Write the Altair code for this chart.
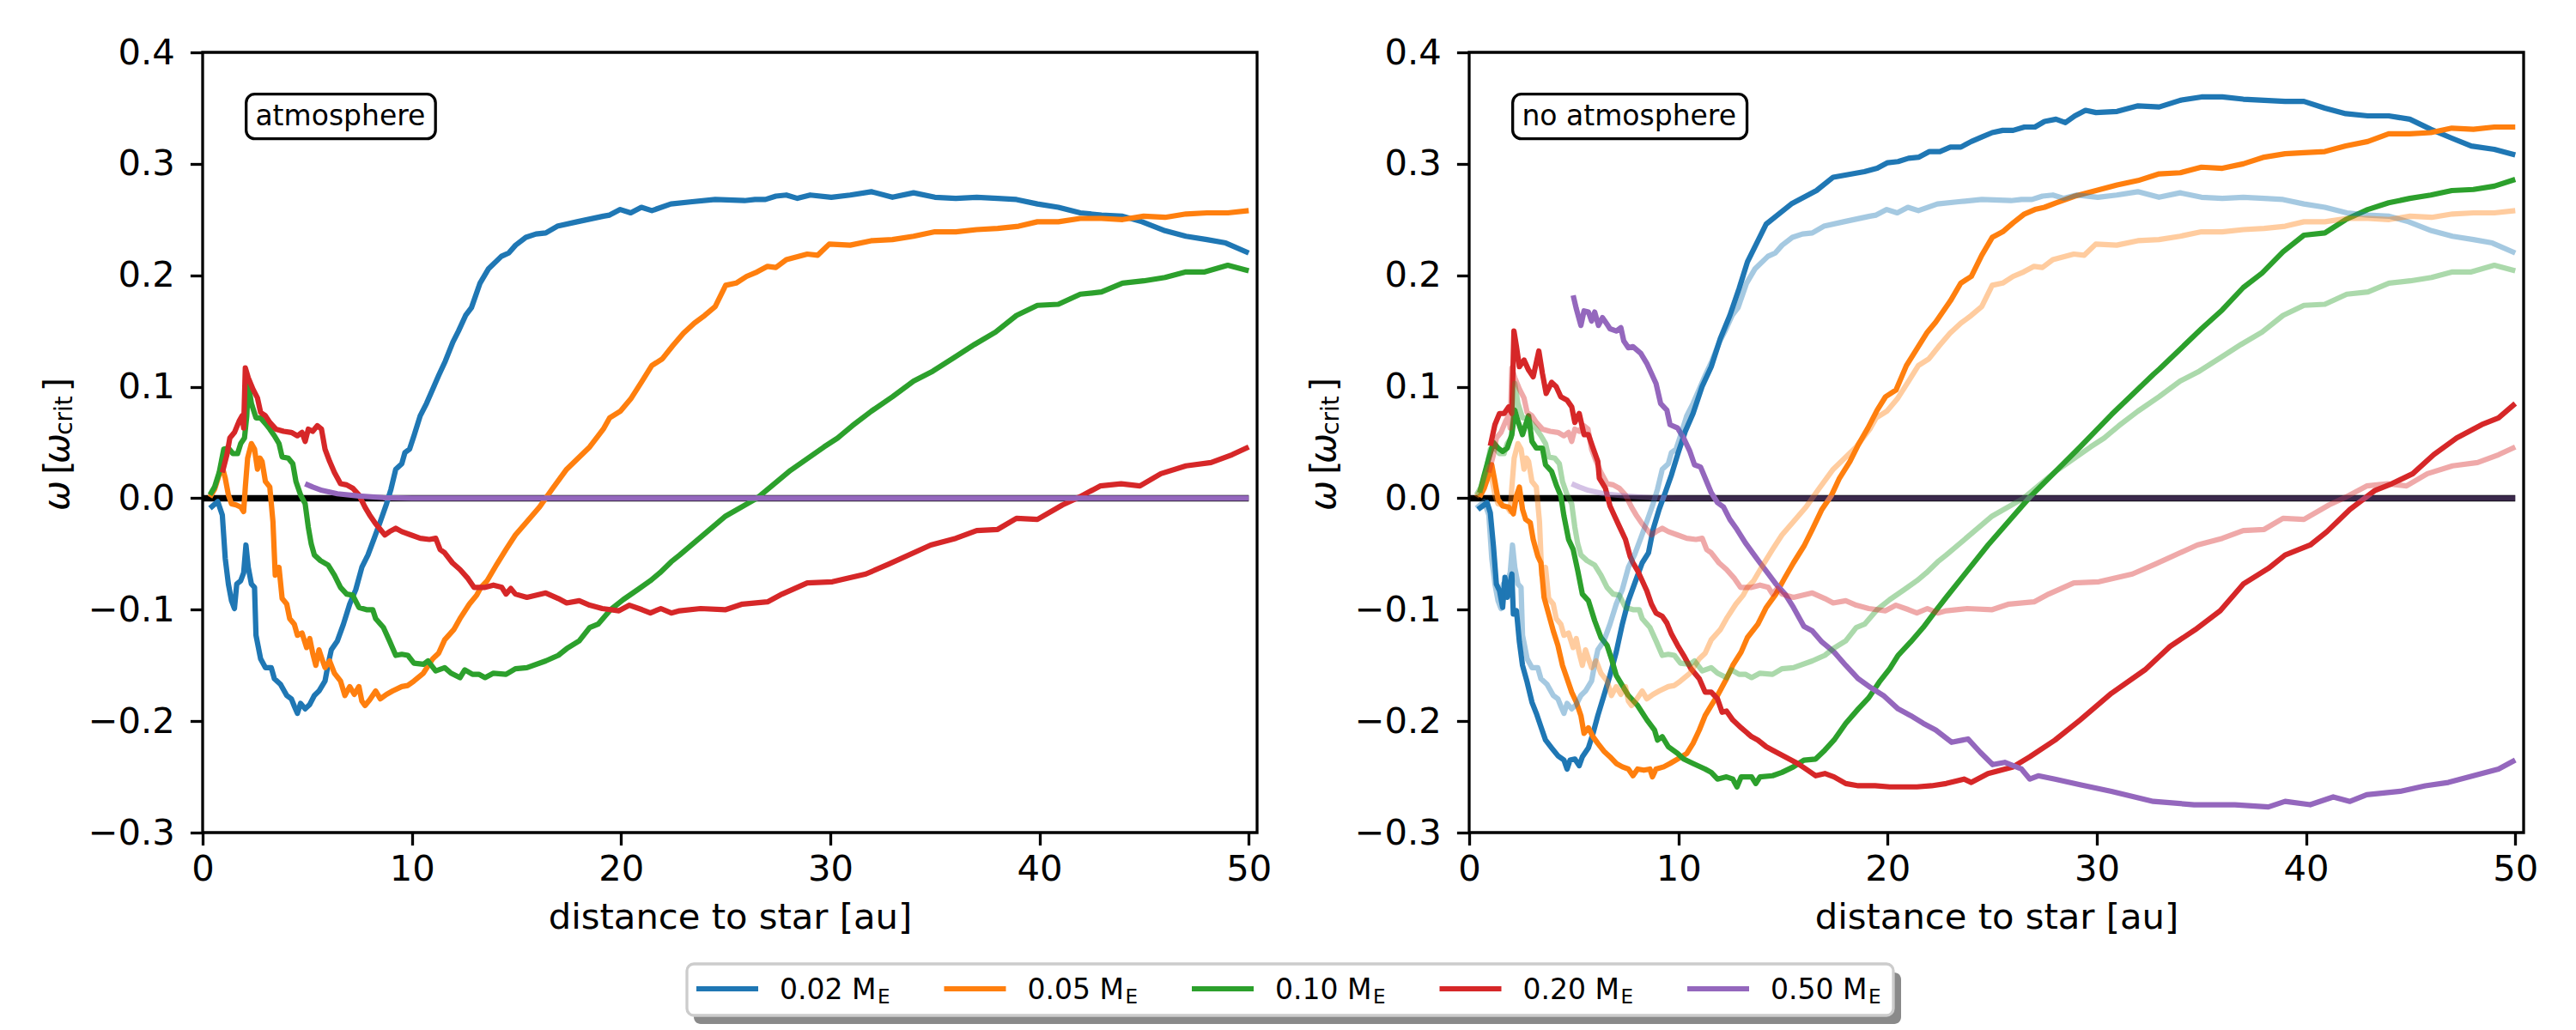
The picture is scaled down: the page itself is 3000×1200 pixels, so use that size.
import altair as alt
import pandas as pd

# ---------------- data ----------------
SERIES_LABELS = ["0.02", "0.05", "0.10", "0.20", "0.50"]
SERIES_COLORS = ["#1f77b4", "#ff7f0e", "#2ca02c", "#d62728", "#9467bd"]

# "atmosphere" runs (left panel; drawn faint in right panel)
BLUE_ATM = [(0.35,-0.009),(0.72,-0.003),(0.94,-0.015),(1.08,-0.054),(1.23,-0.077),(1.38,-0.092),(1.52,-0.099),(1.63,-0.077),(1.82,-0.074),(1.96,-0.067),(2.07,-0.042),(2.18,-0.062),(2.33,-0.077),(2.48,-0.080),(2.55,-0.123),(2.77,-0.144),(3.0,-0.152),(3.28,-0.152),(3.43,-0.162),(3.72,-0.167),(4.02,-0.177),(4.24,-0.180),(4.39,-0.187),(4.53,-0.193),(4.68,-0.184),(4.9,-0.189),(5.12,-0.185),(5.34,-0.177),(5.56,-0.173),(5.85,-0.164),(6.0,-0.149),(6.15,-0.136),(6.44,-0.128),(6.73,-0.113),(7.03,-0.095),(7.32,-0.082),(7.61,-0.062),(7.9,-0.051),(8.2,-0.036),(8.49,-0.021),(8.79,-0.005),(9.0,0.008),(9.23,0.026),(9.52,0.031),(9.67,0.041),(9.89,0.044),(10.1,0.056),(10.4,0.074),(10.7,0.085),(11.0,0.098),(11.28,0.110),(11.6,0.123),(11.96,0.140),(12.23,0.150),(12.57,0.164),(12.85,0.171),(13.26,0.193),(13.67,0.206),(14.28,0.217),(14.63,0.220),(14.96,0.227),(15.45,0.234),(15.93,0.237),(16.4,0.238),(16.95,0.244),(17.9,0.248),(19.15,0.253),(19.45,0.254),(19.96,0.259),(20.46,0.256),(20.97,0.261),(21.47,0.258),(22.38,0.264),(23.4,0.266),(24.5,0.268),(25.9,0.267),(26.4,0.268),(26.9,0.268),(27.4,0.271),(27.9,0.272),(28.43,0.269),(29.04,0.272),(30.05,0.270),(30.95,0.272),(31.96,0.275),(32.97,0.270),(33.98,0.274),(35.0,0.270),(36.0,0.269),(37.0,0.270),(38.0,0.269),(38.9,0.268),(39.9,0.264),(40.9,0.261),(41.95,0.256),(42.96,0.254),(43.97,0.253),(44.9,0.248),(46.0,0.240),(47.0,0.235),(48.0,0.232),(48.9,0.229),(50.0,0.220)]
ORANGE_ATM = [(0.35,0.001),(0.57,0.008),(0.79,0.021),(0.94,0.028),(1.08,0.018),(1.23,0.003),(1.38,-0.005),(1.6,-0.006),(1.82,-0.008),(1.96,-0.012),(2.04,0.010),(2.15,0.036),(2.33,0.049),(2.48,0.044),(2.62,0.026),(2.74,0.036),(2.84,0.033),(3.0,0.015),(3.21,0.010),(3.36,-0.021),(3.47,-0.069),(3.65,-0.062),(3.8,-0.090),(4.02,-0.095),(4.16,-0.108),(4.38,-0.113),(4.53,-0.123),(4.75,-0.121),(4.97,-0.134),(5.12,-0.126),(5.26,-0.139),(5.41,-0.150),(5.56,-0.136),(5.7,-0.144),(5.85,-0.152),(6.07,-0.146),(6.3,-0.157),(6.59,-0.164),(6.8,-0.177),(7.03,-0.169),(7.25,-0.176),(7.47,-0.169),(7.61,-0.182),(7.76,-0.186),(7.98,-0.181),(8.27,-0.173),(8.49,-0.180),(8.79,-0.176),(9.08,-0.173),(9.52,-0.169),(9.81,-0.168),(10.1,-0.164),(10.55,-0.157),(11.0,-0.144),(11.28,-0.139),(11.57,-0.127),(12.0,-0.118),(12.3,-0.108),(12.75,-0.095),(13.1,-0.087),(13.3,-0.080),(13.6,-0.074),(14.07,-0.059),(14.5,-0.046),(14.95,-0.033),(15.5,-0.021),(16.1,-0.008),(16.7,0.008),(17.4,0.026),(18.5,0.046),(19.15,0.062),(19.45,0.072),(19.96,0.078),(20.46,0.089),(20.97,0.104),(21.47,0.119),(21.97,0.125),(22.48,0.137),(22.98,0.148),(23.5,0.157),(24.0,0.164),(24.5,0.172),(25.0,0.191),(25.5,0.193),(26.0,0.199),(26.5,0.203),(27.0,0.208),(27.4,0.207),(27.9,0.214),(28.9,0.219),(29.4,0.218),(29.95,0.228),(30.95,0.227),(31.96,0.231),(32.97,0.232),(33.98,0.235),(35.0,0.239),(36.0,0.239),(37.0,0.241),(38.0,0.242),(39.0,0.244),(39.9,0.248),(40.9,0.248),(41.95,0.251),(42.96,0.251),(43.97,0.250),(44.98,0.253),(46.0,0.252),(47.0,0.255),(48.0,0.256),(49.0,0.256),(50.0,0.258)]
GREEN_ATM = [(0.35,0.003),(0.57,0.010),(0.79,0.023),(1.01,0.044),(1.23,0.045),(1.45,0.040),(1.67,0.040),(1.82,0.049),(2.0,0.054),(2.11,0.074),(2.18,0.103),(2.33,0.085),(2.55,0.072),(2.77,0.072),(3.0,0.067),(3.21,0.062),(3.43,0.056),(3.65,0.049),(3.8,0.037),(4.09,0.036),(4.31,0.031),(4.46,0.015),(4.68,0.003),(4.9,-0.005),(5.05,-0.026),(5.19,-0.041),(5.34,-0.051),(5.63,-0.056),(6.0,-0.060),(6.3,-0.069),(6.59,-0.080),(6.88,-0.086),(7.17,-0.087),(7.47,-0.098),(7.83,-0.100),(8.13,-0.100),(8.27,-0.108),(8.64,-0.116),(8.93,-0.128),(9.23,-0.141),(9.52,-0.140),(9.81,-0.141),(10.1,-0.148),(10.55,-0.149),(10.77,-0.146),(11.14,-0.155),(11.57,-0.152),(11.87,-0.157),(12.3,-0.161),(12.53,-0.154),(12.9,-0.158),(13.2,-0.158),(13.5,-0.161),(13.9,-0.157),(14.5,-0.158),(14.95,-0.153),(15.5,-0.152),(16.4,-0.146),(17.0,-0.141),(17.4,-0.135),(18.0,-0.128),(18.5,-0.116),(18.9,-0.113),(19.5,-0.100),(20.1,-0.091),(20.8,-0.082),(21.4,-0.074),(21.85,-0.067),(22.4,-0.057),(22.8,-0.051),(25.0,-0.016),(26.5,0.000),(28.1,0.025),(29.7,0.046),(30.35,0.054),(31.05,0.065),(31.96,0.078),(32.97,0.091),(33.98,0.105),(34.9,0.114),(35.9,0.126),(36.9,0.138),(37.9,0.149),(38.9,0.164),(39.9,0.173),(40.9,0.174),(41.95,0.183),(42.96,0.185),(43.97,0.193),(44.98,0.195),(46.0,0.198),(47.0,0.203),(47.9,0.203),(49.0,0.209),(50.0,0.204)]
RED_ATM = [(0.94,0.023),(1.16,0.039),(1.3,0.054),(1.52,0.059),(1.74,0.069),(1.89,0.074),(1.96,0.063),(2.04,0.117),(2.18,0.108),(2.4,0.098),(2.62,0.090),(2.77,0.077),(3.0,0.074),(3.21,0.068),(3.5,0.062),(3.87,0.060),(4.24,0.059),(4.53,0.056),(4.75,0.059),(4.9,0.051),(5.05,0.062),(5.26,0.060),(5.48,0.065),(5.68,0.062),(5.85,0.044),(6.07,0.033),(6.3,0.023),(6.59,0.013),(6.88,0.012),(7.17,0.009),(7.47,0.003),(7.76,-0.008),(7.98,-0.015),(8.27,-0.023),(8.71,-0.033),(8.93,-0.030),(9.23,-0.027),(9.52,-0.030),(9.96,-0.033),(10.4,-0.036),(10.84,-0.037),(11.14,-0.036),(11.35,-0.046),(11.57,-0.049),(11.94,-0.058),(12.3,-0.064),(12.68,-0.072),(12.97,-0.080),(13.5,-0.080),(13.9,-0.078),(14.3,-0.080),(14.5,-0.086),(14.73,-0.081),(14.95,-0.086),(15.5,-0.089),(16.4,-0.085),(17.0,-0.090),(17.4,-0.094),(18.0,-0.092),(18.5,-0.096),(19.1,-0.099),(19.9,-0.101),(20.4,-0.096),(21.0,-0.100),(21.4,-0.103),(21.9,-0.099),(22.4,-0.103),(22.8,-0.101),(23.8,-0.099),(25.0,-0.100),(25.8,-0.095),(27.0,-0.093),(27.7,-0.086),(28.9,-0.076),(30.1,-0.075),(31.7,-0.068),(32.8,-0.059),(34.8,-0.042),(36.0,-0.036),(37.0,-0.029),(38.0,-0.028),(38.9,-0.018),(39.9,-0.019),(41.1,-0.006),(41.9,0.001),(42.9,0.011),(43.9,0.013),(44.8,0.011),(45.8,0.022),(47.0,0.029),(48.2,0.032),(49.2,0.039),(50.0,0.046)]
PURPLE_ATM = [(4.9,0.013),(5.26,0.010),(5.7,0.007),(6.44,0.004),(7.47,0.002),(8.64,0.0005),(10.0,0.0001),(15.0,0.0),(20.0,0.0),(30.0,0.0),(40.0,0.0),(50.0,0.0)]

# "no atmosphere" runs (right panel, solid)
BLUE_NOATM = [(0.42,-0.010),(0.86,-0.004),(1.01,-0.013),(1.16,-0.043),(1.3,-0.077),(1.45,-0.083),(1.6,-0.098),(1.71,-0.071),(1.82,-0.089),(2.04,-0.068),(2.11,-0.104),(2.26,-0.101),(2.4,-0.129),(2.55,-0.150),(2.77,-0.165),(3.0,-0.183),(3.21,-0.193),(3.43,-0.205),(3.65,-0.217),(3.94,-0.224),(4.24,-0.231),(4.53,-0.235),(4.68,-0.243),(4.82,-0.235),(5.05,-0.234),(5.26,-0.240),(5.41,-0.232),(5.7,-0.224),(5.92,-0.211),(6.15,-0.195),(6.44,-0.177),(6.73,-0.159),(7.03,-0.138),(7.32,-0.113),(7.61,-0.092),(7.9,-0.077),(8.27,-0.058),(8.57,-0.049),(8.79,-0.028),(9.08,-0.010),(9.37,0.005),(9.67,0.021),(9.96,0.039),(10.33,0.060),(10.7,0.076),(11.13,0.100),(11.57,0.118),(12.0,0.143),(12.46,0.164),(12.9,0.188),(13.3,0.212),(14.2,0.246),(15.4,0.264),(16.6,0.276),(17.4,0.288),(18.89,0.293),(19.5,0.296),(20.0,0.301),(20.5,0.302),(21.0,0.305),(21.5,0.306),(22.0,0.311),(22.5,0.311),(23.0,0.315),(23.5,0.315),(24.0,0.320),(24.5,0.324),(25.0,0.328),(25.5,0.330),(26.0,0.330),(26.54,0.333),(27.04,0.333),(27.5,0.338),(28.05,0.340),(28.5,0.337),(28.95,0.343),(29.46,0.348),(29.96,0.346),(30.97,0.347),(31.97,0.352),(32.98,0.351),(33.99,0.357),(35.0,0.360),(36.0,0.360),(37.0,0.358),(38.0,0.357),(39.0,0.356),(39.9,0.356),(40.9,0.350),(41.9,0.345),(42.95,0.343),(43.95,0.343),(44.96,0.340),(45.96,0.331),(46.97,0.323),(47.9,0.316),(49.0,0.313),(50.0,0.308)]
ORANGE_NOATM = [(0.5,0.001),(0.72,0.009),(0.94,0.021),(1.08,0.030),(1.23,0.015),(1.38,-0.001),(1.6,-0.007),(1.89,-0.008),(2.11,-0.014),(2.26,0.002),(2.4,0.010),(2.55,-0.010),(2.7,-0.019),(2.92,-0.022),(3.06,-0.037),(3.28,-0.052),(3.43,-0.058),(3.58,-0.089),(3.8,-0.104),(4.02,-0.119),(4.24,-0.132),(4.46,-0.150),(4.68,-0.162),(4.9,-0.174),(5.12,-0.183),(5.34,-0.195),(5.49,-0.211),(5.7,-0.206),(5.92,-0.214),(6.15,-0.220),(6.44,-0.227),(6.73,-0.232),(7.03,-0.238),(7.32,-0.241),(7.61,-0.243),(7.83,-0.249),(8.05,-0.243),(8.35,-0.244),(8.64,-0.243),(8.76,-0.250),(8.93,-0.243),(9.3,-0.241),(9.6,-0.238),(9.96,-0.234),(10.4,-0.229),(10.7,-0.220),(11.0,-0.208),(11.28,-0.195),(11.57,-0.186),(11.87,-0.177),(12.3,-0.162),(12.6,-0.150),(13.0,-0.138),(13.3,-0.125),(13.8,-0.113),(14.2,-0.098),(14.66,-0.086),(15.1,-0.071),(15.5,-0.058),(16.0,-0.043),(16.4,-0.028),(16.86,-0.010),(17.3,0.002),(17.7,0.018),(18.2,0.033),(18.6,0.048),(19.06,0.063),(19.5,0.079),(19.9,0.091),(20.4,0.097),(20.9,0.119),(21.4,0.134),(21.9,0.149),(22.3,0.158),(23.0,0.177),(23.5,0.193),(24.0,0.199),(24.5,0.218),(25.0,0.234),(25.5,0.239),(26.0,0.247),(26.54,0.255),(27.04,0.259),(27.5,0.261),(28.05,0.265),(28.95,0.271),(29.96,0.276),(30.97,0.281),(31.97,0.285),(32.98,0.291),(33.99,0.292),(35.0,0.297),(36.0,0.296),(37.0,0.300),(38.0,0.306),(39.0,0.309),(39.9,0.310),(40.9,0.311),(41.9,0.316),(42.95,0.320),(43.95,0.327),(44.96,0.327),(45.96,0.328),(46.97,0.332),(48.0,0.331),(49.0,0.333),(50.0,0.333)]
GREEN_NOATM = [(0.5,0.005),(0.72,0.021),(0.94,0.036),(1.16,0.050),(1.38,0.045),(1.6,0.042),(1.82,0.045),(2.04,0.057),(2.18,0.079),(2.33,0.069),(2.55,0.057),(2.7,0.066),(2.84,0.074),(3.0,0.051),(3.21,0.045),(3.5,0.045),(3.65,0.030),(3.94,0.024),(4.16,0.012),(4.38,0.002),(4.53,-0.016),(4.75,-0.037),(4.97,-0.046),(5.19,-0.065),(5.41,-0.086),(5.7,-0.092),(6.0,-0.110),(6.3,-0.125),(6.59,-0.132),(6.8,-0.144),(7.03,-0.159),(7.32,-0.168),(7.61,-0.177),(8.05,-0.186),(8.5,-0.199),(8.86,-0.208),(9.0,-0.217),(9.23,-0.214),(9.52,-0.223),(9.96,-0.229),(10.25,-0.234),(10.7,-0.238),(11.28,-0.243),(11.57,-0.246),(11.87,-0.252),(12.3,-0.250),(12.6,-0.252),(12.8,-0.259),(13.0,-0.250),(13.5,-0.250),(13.7,-0.256),(13.9,-0.250),(14.5,-0.249),(14.95,-0.246),(15.5,-0.241),(16.0,-0.235),(16.56,-0.234),(17.0,-0.226),(17.44,-0.217),(18.0,-0.202),(18.6,-0.189),(19.1,-0.179),(19.6,-0.165),(20.1,-0.153),(20.5,-0.141),(21.1,-0.129),(21.7,-0.116),(22.3,-0.101),(22.8,-0.089),(24.8,-0.042),(26.8,0.001),(29.2,0.046),(30.7,0.075),(32.7,0.111),(33.0,0.116),(34.0,0.134),(35.0,0.152),(36.0,0.169),(37.0,0.189),(37.9,0.202),(38.9,0.221),(39.9,0.236),(40.9,0.238),(41.9,0.250),(42.95,0.259),(43.95,0.265),(44.96,0.269),(45.96,0.272),(46.97,0.276),(48.0,0.277),(49.0,0.280),(50.0,0.286)]
RED_NOATM = [(1.01,0.047),(1.23,0.066),(1.45,0.076),(1.67,0.076),(1.89,0.082),(2.04,0.076),(2.14,0.150),(2.26,0.136),(2.4,0.118),(2.62,0.124),(2.84,0.115),(3.06,0.109),(3.33,0.132),(3.5,0.112),(3.68,0.094),(3.94,0.104),(4.16,0.100),(4.38,0.091),(4.68,0.088),(4.9,0.082),(5.05,0.068),(5.26,0.076),(5.49,0.057),(5.7,0.057),(5.92,0.045),(6.15,0.033),(6.22,0.018),(6.51,0.009),(6.73,-0.007),(6.95,-0.016),(7.17,-0.025),(7.47,-0.037),(7.69,-0.052),(7.83,-0.058),(8.05,-0.065),(8.27,-0.074),(8.49,-0.083),(8.71,-0.095),(8.93,-0.103),(9.23,-0.106),(9.45,-0.112),(9.67,-0.122),(9.96,-0.132),(10.25,-0.141),(10.6,-0.153),(11.0,-0.162),(11.28,-0.174),(11.57,-0.174),(11.87,-0.180),(12.09,-0.192),(12.3,-0.191),(12.6,-0.199),(13.0,-0.206),(13.5,-0.214),(13.8,-0.217),(14.2,-0.223),(14.5,-0.226),(15.1,-0.232),(15.7,-0.238),(16.1,-0.243),(16.56,-0.249),(17.0,-0.247),(17.44,-0.250),(18.0,-0.256),(18.6,-0.258),(19.4,-0.258),(20.1,-0.259),(20.7,-0.259),(21.4,-0.259),(22.1,-0.258),(22.8,-0.256),(23.65,-0.252),(24.0,-0.255),(24.8,-0.247),(26.0,-0.241),(26.8,-0.232),(28.0,-0.217),(29.2,-0.199),(30.7,-0.175),(32.3,-0.154),(33.5,-0.133),(34.7,-0.118),(35.9,-0.101),(37.0,-0.077),(38.2,-0.063),(39.0,-0.051),(40.2,-0.042),(41.0,-0.030),(42.1,-0.010),(43.3,0.007),(44.1,0.013),(45.1,0.022),(46.1,0.039),(47.2,0.054),(48.4,0.066),(49.2,0.072),(50.0,0.085)]
PURPLE_NOATM = [(4.97,0.182),(5.12,0.170),(5.34,0.155),(5.49,0.168),(5.7,0.167),(5.85,0.159),(6.0,0.167),(6.18,0.155),(6.37,0.162),(6.59,0.156),(6.73,0.152),(7.03,0.150),(7.25,0.153),(7.39,0.141),(7.61,0.135),(7.83,0.136),(8.2,0.130),(8.49,0.121),(8.71,0.112),(8.93,0.103),(9.15,0.085),(9.45,0.079),(9.6,0.066),(9.96,0.063),(10.25,0.054),(10.55,0.042),(10.77,0.030),(11.06,0.028),(11.28,0.018),(11.57,0.005),(11.87,-0.004),(12.16,-0.008),(12.46,-0.019),(12.8,-0.028),(13.2,-0.040),(13.55,-0.049),(13.9,-0.058),(14.3,-0.068),(14.66,-0.077),(15.1,-0.086),(15.5,-0.098),(16.0,-0.115),(16.4,-0.119),(16.86,-0.129),(17.44,-0.138),(18.0,-0.150),(18.6,-0.162),(19.2,-0.170),(19.8,-0.177),(20.5,-0.189),(21.1,-0.195),(21.7,-0.202),(22.3,-0.208),(23.06,-0.219),(23.84,-0.216),(24.43,-0.228),(25.02,-0.239),(25.6,-0.237),(26.4,-0.243),(26.8,-0.252),(27.2,-0.249),(28.0,-0.252),(29.2,-0.257),(30.7,-0.263),(32.7,-0.272),(34.65,-0.275),(36.6,-0.275),(38.2,-0.277),(39.0,-0.272),(40.2,-0.275),(41.3,-0.268),(42.1,-0.272),(42.9,-0.266),(44.5,-0.263),(45.7,-0.258),(46.8,-0.255),(48.0,-0.249),(49.2,-0.243),(50.0,-0.235)]

ATM_RUNS = [BLUE_ATM, ORANGE_ATM, GREEN_ATM, RED_ATM, PURPLE_ATM]
NOATM_RUNS = [BLUE_NOATM, ORANGE_NOATM, GREEN_NOATM, RED_NOATM, PURPLE_NOATM]

PANEL_LABELS = ["atmosphere", "no atmosphere"]
X_TICKS = [0, 10, 20, 30, 40, 50]
Y_TICKS = [-0.3, -0.2, -0.1, 0.0, 0.1, 0.2, 0.3, 0.4]
X_DOMAIN = [0, 50.4]
Y_DOMAIN = [-0.3, 0.4]
ZERO_X = [0, 50]
ZERO_Y = [0.0, 0.0]

# ---------------- layout / style constants ----------------
W, H = 1228, 909
FONT = "DejaVu Sans"
FS = 41.7
LW = 6.2
ANNOT_TEXT_X, ANNOT_TEXT_Y = 2.52, 0.3425
ANNOT_BOX = dict(x0=2.08, y0=0.3625, y1=0.3225)
ANNOT_BOX_X1 = [11.13, 13.28]

xs = alt.Scale(domain=X_DOMAIN, nice=False, zero=False)
ys = alt.Scale(domain=Y_DOMAIN, nice=False, zero=False)
x_axis = alt.Axis(values=X_TICKS, title="distance to star [au]", format="d")
y_axis = alt.Axis(values=Y_TICKS, title=None, format=".1f")


def XE(f="x"):
    return alt.X(f"{f}:Q", scale=xs, axis=x_axis)


def YE(f="y"):
    return alt.Y(f"{f}:Q", scale=ys, axis=y_axis)


def line_layer(pairs, color, opacity=1.0):
    df = pd.DataFrame(pairs, columns=["x", "y"])
    return alt.Chart(df).mark_line(
        color=color, strokeWidth=LW, opacity=opacity, strokeJoin="round", strokeCap="butt"
    ).encode(x=XE(), y=YE())


def const_text(txt, x, y, size, style="normal", angle=None, align="left", baseline="alphabetic"):
    kw = dict(align=align, baseline=baseline, font=FONT, fontSize=size, fontStyle=style, color="black")
    if angle is not None:
        kw["angle"] = angle
    return alt.Chart(pd.DataFrame({"t": [txt]})).mark_text(**kw).encode(
        x=alt.value(x), y=alt.value(y), text="t:N")


def ylabel_layers():
    # pieces of  ω [ω_crit]  (rotated, each centred on its own position)
    bx = -156
    pieces = [("ω", "italic", FS, 516.5, bx), ("[", "normal", FS, 483.5, bx),
              ("ω", "italic", FS, 461.5, bx), ("crit", "normal", 28, 423, bx + 4),
              ("]", "normal", FS, 387, bx)]
    return [const_text(t, x, y, s, style=st, angle=270, align="center")
            for (t, st, s, y, x) in pieces]


def legend_layers():
    layers = []
    one = pd.DataFrame({"k": [0]})
    layers.append(alt.Chart(one).mark_rect(fill="#8a8a8a", cornerRadius=8).encode(
        x=alt.value(572), x2=alt.value(1978), y=alt.value(1072), y2=alt.value(1132)))
    layers.append(alt.Chart(one).mark_rect(fill="white", stroke="#cccccc", strokeWidth=3.3,
                                           cornerRadius=8).encode(
        x=alt.value(564), x2=alt.value(1969), y=alt.value(1062), y2=alt.value(1122)))
    for i, (lab, col) in enumerate(zip(SERIES_LABELS, SERIES_COLORS)):
        x0 = 575 + 288.5 * i
        layers.append(alt.Chart(one).mark_rule(color=col, strokeWidth=LW).encode(
            x=alt.value(x0), x2=alt.value(x0 + 72), y=alt.value(1091)))
        layers.append(const_text(f"{lab} M", x0 + 97, 1103, 33))
        layers.append(const_text("E", x0 + 211, 1108, 23))
    return layers


def panel(idx):
    layers = []
    zero = pd.DataFrame({"x": ZERO_X, "y": ZERO_Y})
    layers.append(alt.Chart(zero).mark_line(color="black", strokeWidth=7.5).encode(x=XE(), y=YE()))
    solid = ATM_RUNS if idx == 0 else NOATM_RUNS
    for pairs, col in zip(solid, SERIES_COLORS):
        layers.append(line_layer(pairs, col))
    if idx == 1:
        for pairs, col in zip(ATM_RUNS, SERIES_COLORS):
            layers.append(line_layer(pairs, col, opacity=0.4))
    box = pd.DataFrame({"x": [ANNOT_BOX["x0"]], "x2": [ANNOT_BOX_X1[idx]],
                        "y": [ANNOT_BOX["y0"]], "y2": [ANNOT_BOX["y1"]]})
    layers.append(alt.Chart(box).mark_rect(fill="white", stroke="black", strokeWidth=3.3,
                                           cornerRadius=10).encode(
        x=XE(), x2=alt.X2("x2"), y=YE(), y2=alt.Y2("y2")))
    lab = pd.DataFrame({"x": [ANNOT_TEXT_X], "y": [ANNOT_TEXT_Y], "t": [PANEL_LABELS[idx]]})
    layers.append(alt.Chart(lab).mark_text(align="left", baseline="middle", font=FONT,
                                           fontSize=33, color="black").encode(
        x=XE(), y=YE(), text="t:N"))
    layers += ylabel_layers()
    if idx == 0:
        layers += legend_layers()
    return alt.layer(*layers).properties(width=W, height=H)


chart = alt.hconcat(panel(0), panel(1), spacing=247, bounds="flush").properties(
    padding={"left": 37, "top": 31, "right": 20, "bottom": 10}, background="white"
).configure_view(stroke="black", strokeWidth=3.3).configure_axis(
    domain=False, grid=False, ticks=True, tickColor="black", tickWidth=3.3, tickSize=14.6,
    labelFont=FONT, labelFontSize=FS, labelColor="black", titleFont=FONT, titleFontSize=FS,
    titleFontWeight="normal", titleColor="black", labelFlush=False, labelOverlap=False,
    labelBound=False
).configure_axisX(labelPadding=8, titlePadding=14).configure_axisY(labelPadding=18)

chart.save("out.html", embed_options={"renderer": "svg", "actions": False})
